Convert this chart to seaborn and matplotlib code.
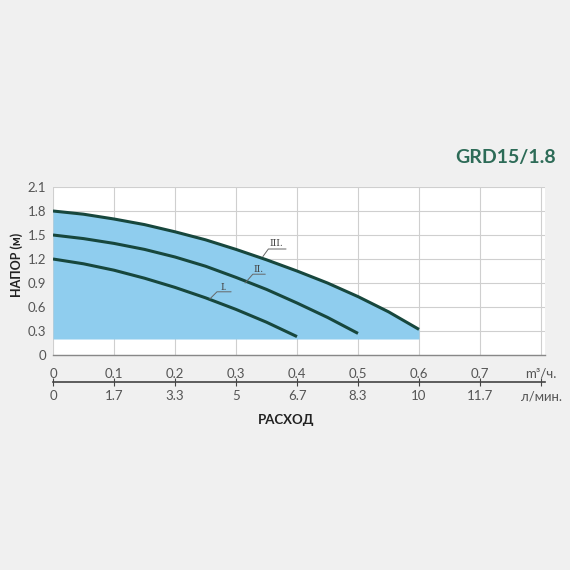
import numpy as np
import pandas as pd
import matplotlib
matplotlib.use('Agg')
import matplotlib.pyplot as plt
import seaborn as sns

# Данные
flow = [0, 0.05, 0.1, 0.15, 0.2, 0.25, 0.3, 0.35, 0.4, 0.45, 0.5, 0.55, 0.6]
head_3 = [1.80, 1.76, 1.70, 1.63, 1.54, 1.44, 1.32, 1.19, 1.05, 0.90, 0.73, 0.54, 0.32]
head_2 = [1.50, 1.455, 1.395, 1.32, 1.225, 1.11, 0.97, 0.82, 0.65, 0.47, 0.27]
head_1 = [1.20, 1.14, 1.06, 0.96, 0.845, 0.715, 0.57, 0.41, 0.23]
fill_bottom = 0.2

x_ticks = [0, 0.1, 0.2, 0.3, 0.4, 0.5, 0.6, 0.7, 0.8]
m3_labels = ['0', '0.1', '0.2', '0.3', '0.4', '0.5', '0.6', '0.7', 'm³/ч.']
lmin_labels = ['0', '1.7', '3.3', '5', '6.7', '8.3', '10', '11.7', 'л/мин.']
y_ticks = [0, 0.3, 0.6, 0.9, 1.2, 1.5, 1.8, 2.1]
y_labels = ['0', '0.3', '0.6', '0.9', '1.2', '1.5', '1.8', '2.1']

curves = pd.concat([
    pd.DataFrame({'flow': flow[:len(head_1)], 'head': head_1, 'speed': 'I.'}),
    pd.DataFrame({'flow': flow[:len(head_2)], 'head': head_2, 'speed': 'II.'}),
    pd.DataFrame({'flow': flow[:len(head_3)], 'head': head_3, 'speed': 'III.'}),
])

sns.set_style('white')
plt.rcParams['font.family'] = ['Lato', 'DejaVu Sans']

bg = '#f0f0f0'
line_col = '#17473d'
fill_col = '#8fcdee'
grid_col = '#cfcfcf'
text_col = '#555555'

fig = plt.figure(figsize=(5.7, 5.7), dpi=100, facecolor=bg)
ax = fig.add_axes([53 / 570, 1 - 355 / 570, 492 / 570, 168 / 570])
ax.set_facecolor('white')

ax.fill_between(flow, fill_bottom, head_3, color=fill_col, linewidth=0, zorder=1)
sns.lineplot(data=curves, x='flow', y='head', units='speed', estimator=None,
             color=line_col, linewidth=2.2, ax=ax, legend=False, zorder=3,
             solid_joinstyle='round', solid_capstyle='butt')

ax.set_xlim(0, 492 / 610)
ax.set_ylim(0, 2.1)
ax.set_xticks(x_ticks)
ax.set_xticklabels(m3_labels)
ax.set_yticks(y_ticks)
ax.set_yticklabels(y_labels)
ax.grid(True, color=grid_col, linewidth=0.8, zorder=0)
ax.set_axisbelow(True)
ax.set_xlabel('')
ax.set_ylabel('')

for s in ['top', 'right', 'left']:
    ax.spines[s].set_visible(False)
ax.spines['bottom'].set_color('#888888')
ax.spines['bottom'].set_linewidth(1.0)

ax.tick_params(axis='y', length=3, color='#888888', labelsize=9.5,
               labelcolor=text_col, pad=2)
ax.tick_params(axis='x', length=3, color='#888888', labelsize=9.5,
               labelcolor=text_col, pad=6)

# вторая шкала (л/мин)
sec = ax.secondary_xaxis(-0.16)
sec.set_xticks(x_ticks)
sec.set_xticklabels(lmin_labels)
sec.spines['bottom'].set_color('#444444')
sec.spines['bottom'].set_linewidth(1.2)
sec.tick_params(axis='x', direction='inout', length=6, color='#444444',
                labelsize=9.5, labelcolor=text_col, pad=3)

# подписи скоростей
labels = [
    ('III.', (0.344, 1.23), (0.382, 1.325), 54, (0.366, 1.39)),
    ('II.', (0.315, 0.90), (0.348, 1.01), 49, (0.337, 1.075)),
    ('I.', (0.257, 0.70), (0.292, 0.79), 45, (0.280, 0.85)),
]
for name, pt, end, ang, tpos in labels:
    ax.annotate('', xy=pt, xytext=end,
                arrowprops=dict(arrowstyle='-', color='#666666', lw=0.7,
                                shrinkA=0, shrinkB=0,
                                connectionstyle=f'angle,angleA=0,angleB={ang},rad=0'),
                zorder=4)
    ax.text(tpos[0], tpos[1], name, fontsize=6.5, family='DejaVu Serif',
            color='#444444', ha='center', va='center', zorder=4)

fig.text(17 / 570, 1 - 265 / 570, 'НАПОР (м)', rotation=90, fontsize=9,
         fontweight='bold', color='#222222', ha='center', va='center')
fig.text(286 / 570, 1 - 420 / 570, 'РАСХОД', fontsize=9.5,
         fontweight='bold', color='#222222', ha='center', va='center')
fig.text(506 / 570, 1 - 157 / 570, 'GRD15/1.8', fontsize=14,
         fontweight='bold', color='#2d6b57', ha='center', va='center')

fig.savefig('out.png', dpi=100, facecolor=bg)
